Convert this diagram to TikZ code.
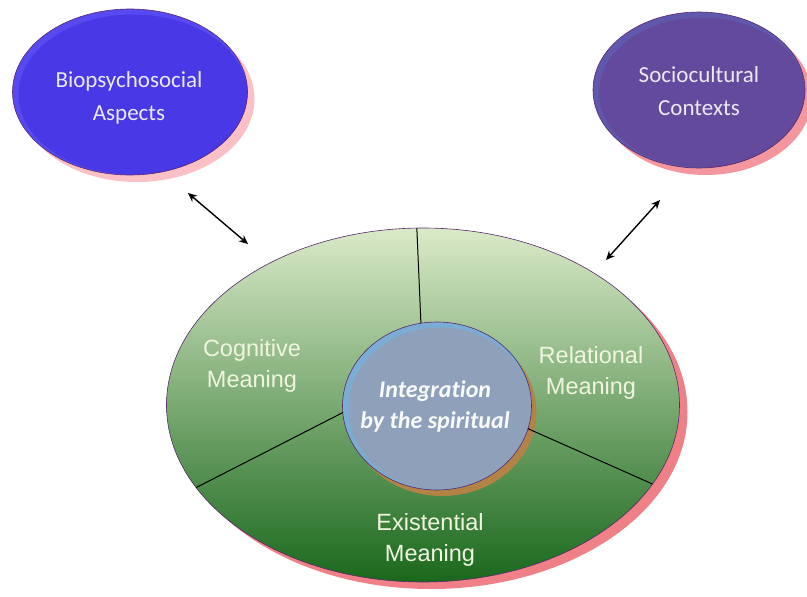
\documentclass[tikz,border=0pt]{standalone}
\usepackage{fontspec}
\setmainfont{Carlito}[Ligatures=NoCommon]
\newfontfamily\labelfont{Liberation Sans}
\usetikzlibrary{positioning,arrows.meta,shapes.geometric,shadows}
\definecolor{BioBlue}{RGB}{72,56,230}
\definecolor{BioEdge}{RGB}{86,74,240}
\definecolor{SocioPurple}{RGB}{100,74,156}
\definecolor{SocioEdge}{RGB}{96,88,172}
\definecolor{OvalBorder}{RGB}{90,40,110}
\definecolor{TopicText}{RGB}{236,232,246}
\definecolor{PaleShadow}{RGB}{250,192,198}
\definecolor{PinkShadow}{RGB}{244,150,158}
\definecolor{RimShadow}{RGB}{240,128,136}
\definecolor{CoreShadow}{RGB}{178,130,70}
\definecolor{MeanTop}{RGB}{218,234,200}
\definecolor{MeanMid}{RGB}{142,184,106}
\definecolor{MeanBottom}{RGB}{26,104,28}
\definecolor{MeanText}{RGB}{240,245,224}
\definecolor{CoreFill}{RGB}{142,160,186}
\definecolor{CoreEdge}{RGB}{122,172,212}
\tikzset{
  % Outer topic ovals
  topic/.style={
    ellipse,
    draw=OvalBorder,
    line width=0.6pt,
    inner sep=0pt,
    outer sep=0pt
  },
  topictext/.style={
    align=center,
    text=TopicText,
    font=\fontsize{23}{33}\selectfont
  },
  % Lighter rim inside an oval, the face shifted down right
  sheen/.style 2 args={
    fill=#1,
    path picture={
      \fill[#2] ([xshift=3pt,yshift=-2.5pt]path picture bounding box.center)
        ellipse [x radius=0.5*\pgfkeysvalueof{/pgf/minimum width}-3pt,
                 y radius=0.5*\pgfkeysvalueof{/pgf/minimum height}-3pt];
    }
  },
  % Big meaning oval
  rim/.style={
    ellipse,
    draw=OvalBorder,
    line width=0.6pt,
    inner sep=0pt,
    outer sep=0pt,
    top color=MeanTop,
    middle color=MeanMid,
    bottom color=MeanBottom,
    minimum width=513pt,
    minimum height=354pt,
    drop shadow={shadow xshift=8pt, shadow yshift=-7pt, fill=RimShadow, opacity=1}
  },
  % Centre circle
  core/.style={
    ellipse,
    draw=OvalBorder,
    line width=0.6pt,
    inner sep=0pt,
    outer sep=0pt,
    minimum width=189pt,
    minimum height=168pt,
    sheen={CoreEdge}{CoreFill},
    drop shadow={shadow xshift=5pt, shadow yshift=-6pt, fill=CoreShadow, opacity=1}
  },
  % Sector labels
  meaning/.style={
    align=center,
    text=MeanText,
    font=\labelfont\fontsize{23.5}{31}\selectfont
  },
  coretext/.style={
    align=center,
    text=white!95!CoreFill,
    font=\bfseries\itshape\fontsize{24}{31}\selectfont
  },
  % Sector dividers
  divider/.style={draw=black, line width=1pt},
  % Two-way link
  link/.style={draw=black, line width=1.4pt, {Stealth[length=9pt,width=8pt]}-{Stealth[length=9pt,width=8pt]}}
}

\begin{document}
\begin{tikzpicture}[x=1pt, y=-1pt]
  \useasboundingbox (0,0) rectangle (807,597);
  % Outer ovals
  \node[topic, minimum width=235pt, minimum height=166pt, sheen={BioEdge}{BioBlue},
    drop shadow={shadow xshift=7pt, shadow yshift=-7pt, fill=PaleShadow, opacity=1}]
    (bio) at (130,92) {};
  \node[topic, minimum width=212pt, minimum height=156pt, sheen={SocioEdge}{SocioPurple},
    drop shadow={shadow xshift=7pt, shadow yshift=-7pt, fill=PinkShadow, opacity=1}]
    (socio) at (699,90) {};
  \node[topictext] (biotext) at (129,98) {Biopsychosocial\\Aspects};
  \node[topictext] (sociotext) at (699,91) {Sociocultural\\Contexts};
  % Meaning oval and centre
  \node[rim] (rim) at (423,405) {};
  \node[core] (core) at (437,406) {};
  % Dividers between the three sectors
  \draw[divider] (core.101) -- (rim.92.3);
  \draw[divider] (core.184) -- (rim.200.4);
  \draw[divider] (core.346) -- (rim.341.5);
  % Labels
  \node[meaning] (cog) at (252,366) {Cognitive\\Meaning};
  \node[meaning] (rel) at (591,373) {Relational\\Meaning};
  \node[meaning] (exi) at (430,540) {Existential\\Meaning};
  \node[coretext] (integ) at (435,406) {Integration\\by the spiritual};
  % Links to the outer ovals
  \coordinate (bioa) at (188,193);
  \coordinate (biob) at (248,244);
  \coordinate (socioa) at (660,200);
  \coordinate (sociob) at (606,260);
  \draw[link] (bioa) -- (biob);
  \draw[link] (socioa) -- (sociob);
\end{tikzpicture}
\end{document}
